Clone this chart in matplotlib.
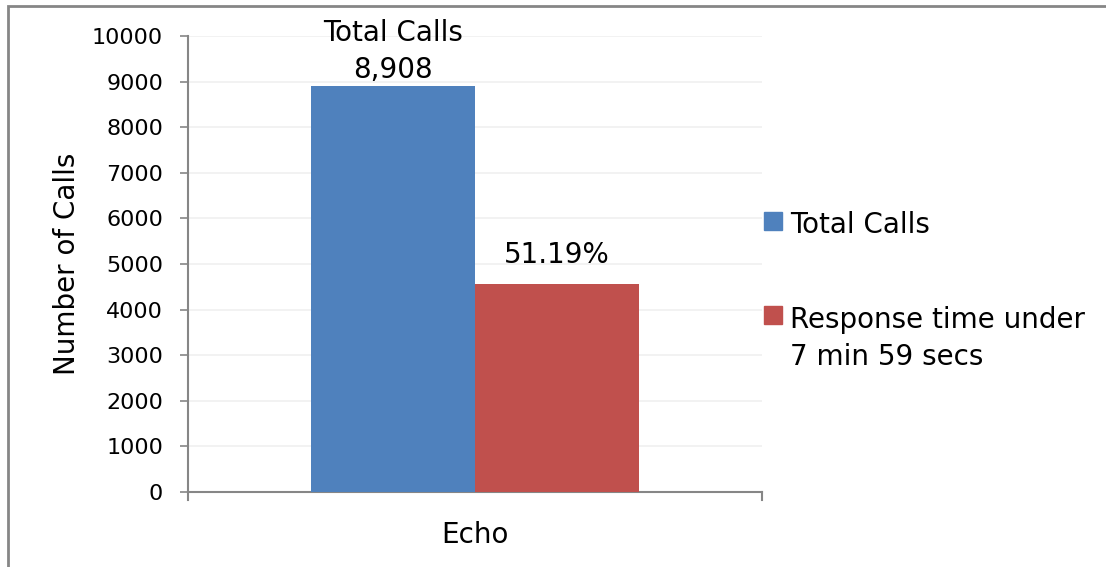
import matplotlib.pyplot as plt
from matplotlib.patches import Rectangle

# call data
categories = ['Echo']
series_names = ['Total Calls', 'Response time under\n7 min 59 secs']
total_calls = [8908]
under_target = [4560]
pct_label = ['51.19%']

blue = '#4F81BD'
red = '#C0504D'
axis_col = '#868686'
series_colors = [blue, red]

plt.rcParams['font.family'] = 'DejaVu Sans'

fig = plt.figure(figsize=(11.06, 5.67), dpi=100)
ax = fig.add_axes([0.170, 0.1323, 0.519, 0.8042])

w = 0.2857
x = range(len(categories))
b1 = ax.bar([a - w / 2 for a in x], total_calls, width=w, color=blue, zorder=3)
b2 = ax.bar([a + w / 2 for a in x], under_target, width=w, color=red, zorder=3)

ax.set_xlim(-0.5, 0.5)
ax.set_ylim(0, 10000)
ax.set_yticks(range(0, 10001, 1000))
ax.set_xticks([])

# grid
ax.yaxis.grid(True, color='#F0F0F0', linewidth=1.2, zorder=0)
ax.set_axisbelow(True)

for s in ['top', 'right']:
    ax.spines[s].set_visible(False)
for s in ['left', 'bottom']:
    ax.spines[s].set_color(axis_col)
    ax.spines[s].set_linewidth(1.5)

ax.tick_params(axis='y', length=6, width=1.2, color=axis_col, labelsize=16, pad=12)

# end ticks on the category axis
for xv in [-0.5, 0.5]:
    ax.plot([xv, xv], [0, -0.017], transform=ax.get_xaxis_transform(), color=axis_col,
            lw=1.5, clip_on=False)

ax.text(0, -0.095, categories[0], transform=ax.get_xaxis_transform(), ha='center', va='center', fontsize=20)
ax.set_ylabel('Number of Calls', fontsize=20, labelpad=8)

# data labels
ax.annotate('Total Calls\n{:,}'.format(total_calls[0]), (b1[0].get_x() + w / 2, total_calls[0]),
            xytext=(0, 1.5), textcoords='offset points', ha='center', va='bottom',
            fontsize=20, linespacing=1.4, annotation_clip=False)
ax.annotate(pct_label[0], (b2[0].get_x() + w / 2, under_target[0]),
            xytext=(0, 10.5), textcoords='offset points', ha='center', va='bottom', fontsize=20)

# legend, drawn by hand so the red key sits on the first text line
key_y = [212, 306]      # top of each key square, pixels from the top
text_base = [233, 365]  # baseline of last text line
W, H = 1106, 567
for col, name, ky, tb in zip(series_colors, series_names, key_y, text_base):
    fig.patches.append(Rectangle((764 / W, 1 - (ky + 18) / H), 18 / W, 18 / H,
                                 transform=fig.transFigure, color=col))
    fig.text(790 / W, 1 - tb / H, name, fontsize=20, va='baseline', ha='left', linespacing=1.4)

# outer border
fig.patches.append(Rectangle((0.0072, -0.1), 1.2, 1.0894, transform=fig.transFigure,
                             fill=False, edgecolor=axis_col, linewidth=2))

fig.savefig('out.png', dpi=100)
